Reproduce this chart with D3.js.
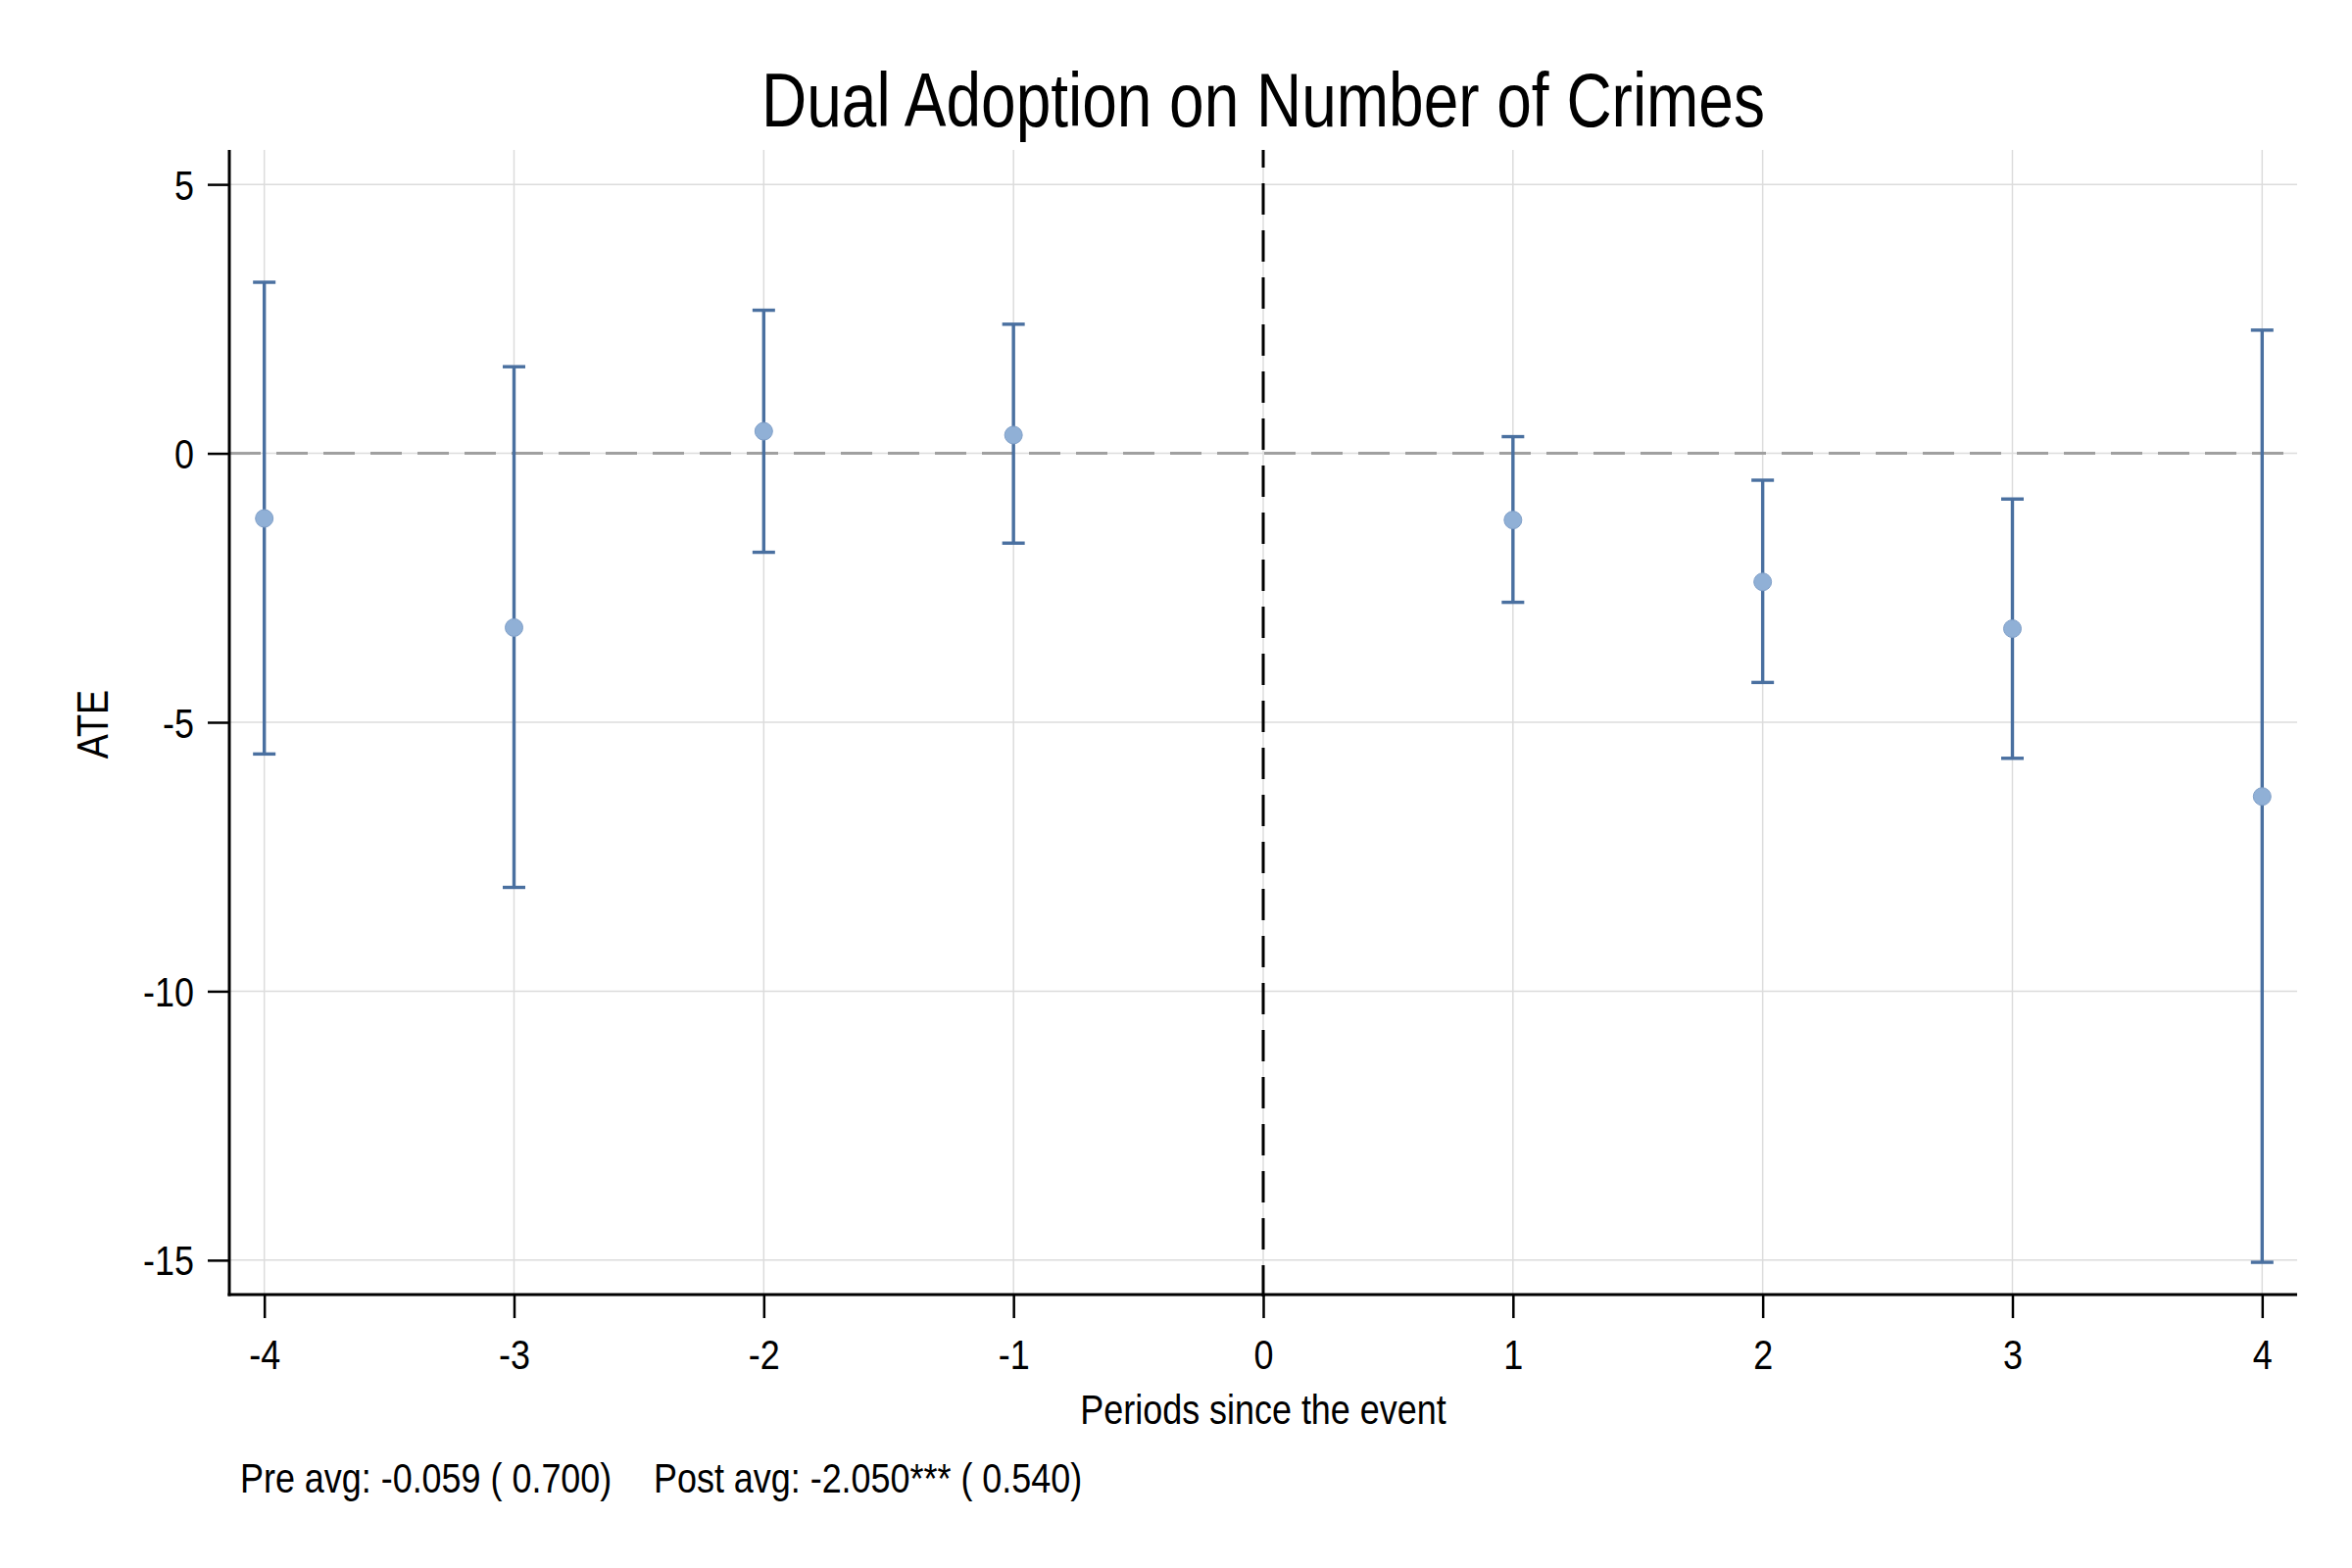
<!DOCTYPE html>
<html>
<head>
<meta charset="utf-8">
<script src="https://cdn.jsdelivr.net/npm/d3@7"></script>
<style>
  html, body { margin: 0; padding: 0; background: #fff; }
  svg { display: block; }
  text { font-family: "Liberation Sans Narrow", "Arial Narrow", "Liberation Sans", Arial, sans-serif; fill: #000; }
</style>
</head>
<body>
<script>
// ---- data ----
const periods   = [-4, -3, -2, -1, 1, 2, 3, 4];
const ate       = [-1.21, -3.24, 0.41, 0.34, -1.24, -2.39, -3.26, -6.38];
const ciUpper   = [3.18, 1.61, 2.66, 2.40, 0.31, -0.50, -0.85, 2.29];
const ciLower   = [-5.59, -8.07, -1.84, -1.67, -2.77, -4.26, -5.67, -15.04];
const xTicks    = [-4, -3, -2, -1, 0, 1, 2, 3, 4];
const yTicks    = [5, 0, -5, -10, -15];
const titleText = "Dual Adoption on Number of Crimes";
const xLabel    = "Periods since the event";
const yLabel    = "ATE";
const notePre   = "Pre avg: -0.059 ( 0.700)";
const notePost  = "Post avg: -2.050*** ( 0.540)";

// ---- layout ----
const W = 2400, H = 1600;
const pLeft = 234, pRight = 2344, pTop = 153, pBottom = 1321;

const svg = d3.select("body").append("svg").attr("width", W).attr("height", H);

const x = d3.scaleLinear().domain([-4.14, 4.14]).range([pLeft, pRight]);
const y = d3.scaleLinear().domain([-15.64, 5.64]).range([pBottom, pTop]);

const data = periods.map((p, i) => ({ p, v: ate[i], hi: ciUpper[i], lo: ciLower[i] }));

// gridlines
const grid = svg.append("g");
grid.selectAll("line.h").data(yTicks).join("line").attr("class", "h")
  .attr("x1", pLeft).attr("x2", pRight)
  .attr("y1", d => y(d)).attr("y2", d => y(d))
  .attr("stroke", "#dcdcdc").attr("stroke-width", 1.5);
grid.selectAll("line.v").data(xTicks).join("line").attr("class", "v")
  .attr("x1", d => x(d)).attr("x2", d => x(d))
  .attr("y1", pTop).attr("y2", pBottom)
  .attr("stroke", "#dcdcdc").attr("stroke-width", 1.5);

// zero reference line (horizontal, gray dashed)
svg.append("line")
  .attr("x1", pLeft).attr("x2", pRight - 14)
  .attr("y1", y(0)).attr("y2", y(0))
  .attr("stroke", "#a0a0a0").attr("stroke-width", 3)
  .attr("stroke-dasharray", "32,16");

// event line (vertical, black dashed)
svg.append("line")
  .attr("x1", x(0)).attr("x2", x(0))
  .attr("y1", pBottom + 2).attr("y2", pTop)
  .attr("stroke", "#000").attr("stroke-width", 3)
  .attr("stroke-dasharray", "32,16");

// error bars
const bars = svg.append("g").attr("stroke", "#4a70a0").attr("stroke-width", 3.4);
bars.selectAll("line.stem").data(data).join("line").attr("class", "stem")
  .attr("x1", d => x(d.p)).attr("x2", d => x(d.p))
  .attr("y1", d => y(d.hi)).attr("y2", d => y(d.lo));
bars.selectAll("line.capHi").data(data).join("line").attr("class", "capHi")
  .attr("x1", d => x(d.p) - 11.5).attr("x2", d => x(d.p) + 11.5)
  .attr("y1", d => y(d.hi)).attr("y2", d => y(d.hi));
bars.selectAll("line.capLo").data(data).join("line").attr("class", "capLo")
  .attr("x1", d => x(d.p) - 11.5).attr("x2", d => x(d.p) + 11.5)
  .attr("y1", d => y(d.lo)).attr("y2", d => y(d.lo));

// points
svg.append("g").selectAll("circle").data(data).join("circle")
  .attr("cx", d => x(d.p)).attr("cy", d => y(d.v)).attr("r", 9)
  .attr("fill", "#90b0d6").attr("stroke", "#7f9fc8").attr("stroke-width", 1);

// axes
const yAxis = d3.axisLeft(y).tickValues(yTicks).tickSize(22).tickPadding(14)
  .tickFormat(d => String(d));
const gy = svg.append("g").attr("transform", `translate(${pLeft},0)`).call(yAxis);
gy.select(".domain").remove();
gy.selectAll(".tick line").attr("stroke", "#000").attr("stroke-width", 2.5);
gy.selectAll(".tick text").attr("font-size", 42).attr("font-family", null).attr("dy", "0.36em");

const xAxis = d3.axisBottom(x).tickValues(xTicks).tickSize(24).tickPadding(20)
  .tickFormat(d => String(d));
const gx = svg.append("g").attr("transform", `translate(0,${pBottom})`).call(xAxis);
gx.select(".domain").remove();
gx.selectAll(".tick line").attr("stroke", "#000").attr("stroke-width", 2.5);
gx.selectAll(".tick text").attr("font-size", 42).attr("font-family", null).attr("dy", null)
  .attr("y", 76);

// axis lines
svg.append("line").attr("x1", pLeft).attr("x2", pLeft).attr("y1", pTop).attr("y2", pBottom + 1.5)
  .attr("stroke", "#000").attr("stroke-width", 3);
svg.append("line").attr("x1", pLeft - 1.5).attr("x2", pRight).attr("y1", pBottom).attr("y2", pBottom)
  .attr("stroke", "#000").attr("stroke-width", 3);

// title
svg.append("text").attr("class", "big").attr("x", 1289).attr("y", 129).attr("text-anchor", "middle")
  .attr("font-size", 78).text(titleText);

// axis titles
svg.append("text").attr("x", 1289).attr("y", 1453).attr("text-anchor", "middle")
  .attr("font-size", 42).text(xLabel);
svg.append("text").attr("transform", "translate(110,739) rotate(-90)").attr("text-anchor", "middle")
  .attr("font-size", 44).text(yLabel);

// note
svg.append("text").attr("x", 245).attr("y", 1523).attr("font-size", 42).text(notePre);
svg.append("text").attr("x", 667).attr("y", 1523).attr("font-size", 42).text(notePost);

// condense text to mimic a narrow face when no narrow font is installed
const narrowAvailable = (function () {
  const c = document.createElement("canvas").getContext("2d");
  c.font = '42px "Liberation Sans Narrow", monospace';
  const a = c.measureText("Periods since").width;
  c.font = '42px monospace';
  return Math.abs(a - c.measureText("Periods since").width) > 1;
})();
if (!narrowAvailable) {
  svg.selectAll("text").each(function () {
    const len = this.getComputedTextLength();
    const f = this.classList.contains("big") ? 0.82 : 0.855;
    d3.select(this).attr("textLength", len * f).attr("lengthAdjust", "spacingAndGlyphs");
  });
}
</script>
</body>
</html>
